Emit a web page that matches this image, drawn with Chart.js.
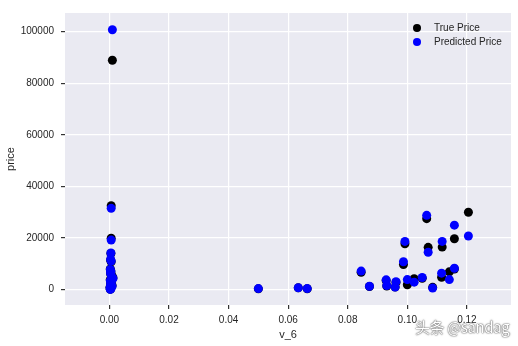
<!DOCTYPE html>
<html lang="en">
<head>
  <meta charset="UTF-8">
  <title>True vs Predicted Price – v_6</title>
  <script src="https://cdn.jsdelivr.net/npm/chart.js"></script>
  <style>
    body { margin: 0; background: #fff; }
    .wrap { position: relative; width: 518px; height: 346px; overflow: hidden; }
    canvas { display: block; }
    .mark { position: absolute; left: 415px; top: 317px; white-space: nowrap; font-family: "Noto Sans CJK SC", sans-serif; font-size: 15px; letter-spacing: -0.4px; line-height: 20px; color: #fff; text-shadow: 0 0 2px #555, 0 0 1px #333; }
  </style>
</head>
<body>

<div class="wrap">
  <canvas id="scatter" width="518" height="346"></canvas>
  <span class="mark">头条 @sandag</span>
</div>

<script>
// v_6 value of each test sample, with its true and predicted price
const v6 = [
  0.0010, 0.0006, 0.0006, 0.0005, 0.0004, 0.0006, 0.0003, 0.0005, 0.0004, 0.0008,
  0.0012, 0.0003, 0.0006, 0.0004, 0.0009, 0.0002, 0.0005, 0.0003,
  0.0500, 0.0634, 0.0664,
  0.0845, 0.0873, 0.0929, 0.0931, 0.0959, 0.0962, 0.0987, 0.0992, 0.1000, 0.1023,
  0.1050, 0.1065, 0.1070, 0.1085, 0.1115, 0.1117, 0.1141, 0.1158, 0.1158, 0.1205
];
const truePrice = [
  88900, 32500, 19900, 14000, 11500, 10800, 8000, 7200, 6200, 5500,
  4600, 3900, 3000, 2200, 1600, 900, 400, 150,
  300, 700, 350,
  6700, 1200, 3500, 1400, 1000, 2800, 9700, 17800, 1900, 4200,
  4400, 27500, 16400, 900, 4800, 16500, 6900, 19700, 8000, 30000
];
const predictedPrice = [
  100700, 31500, 19200, 14200, 11700, 11100, 7800, 7000, 6300, 5000,
  4300, 3500, 2800, 2000, 1300, 700, 300, 100,
  400, 750, 400,
  7200, 1300, 3800, 1600, 1000, 3100, 10800, 18700, 3900, 2900,
  4700, 28800, 14500, 600, 6400, 18700, 3900, 25000, 8300, 20800
];
const xTicks = [0, 0.02, 0.04, 0.06, 0.08, 0.10, 0.12];
const yTicks = [0, 20000, 40000, 60000, 80000, 100000];
const seriesNames = ["True Price", "Predicted Price"];
const seriesColors = ["#000000", "#0000ff"];

const toPoints = (ys) => v6.map((x, i) => ({ x: x, y: ys[i] }));

// legend in the top right corner of the plot, like matplotlib's
const insideLegend = {
  id: "insideLegend",
  afterDraw(chart) {
    const ctx = chart.ctx;
    const a = chart.chartArea;
    ctx.save();
    ctx.font = "10px 'Liberation Sans', Arial, sans-serif";
    ctx.textBaseline = "middle";
    seriesNames.forEach((name, i) => {
      const y = a.top + 15 + i * 14;
      ctx.fillStyle = seriesColors[i];
      ctx.beginPath();
      ctx.arc(a.right - 94, y, 4, 0, Math.PI * 2);
      ctx.fill();
      ctx.fillStyle = "#262626";
      ctx.fillText(name, a.right - 77, y);
    });
    ctx.restore();
  }
};

// seaborn darkgrid background
const plotBg = {
  id: "plotBg",
  beforeDraw(chart) {
    const a = chart.chartArea;
    chart.ctx.save();
    chart.ctx.fillStyle = "#eaeaf2";
    chart.ctx.fillRect(a.left, a.top, a.right - a.left, a.bottom - a.top);
    chart.ctx.restore();
  }
};

Chart.defaults.font.family = "'Liberation Sans', Arial, sans-serif";
Chart.defaults.color = "#262626";

new Chart(document.getElementById("scatter"), {
  type: "scatter",
  data: {
    datasets: [
      { label: seriesNames[0], data: toPoints(truePrice), backgroundColor: seriesColors[0], borderWidth: 0, pointRadius: 4.5, order: 2 },
      { label: seriesNames[1], data: toPoints(predictedPrice), backgroundColor: seriesColors[1], borderWidth: 0, pointRadius: 4.5, order: 1 }
    ]
  },
  options: {
    responsive: false,
    animation: false,
    layout: { padding: { top: 6, right: 7, left: 0, bottom: 0 } },
    plugins: { legend: { display: false }, tooltip: { enabled: false } },
    scales: {
      x: {
        type: "linear",
        min: -0.0149,
        max: 0.1348,
        afterBuildTicks: (s) => { s.ticks = xTicks.map(v => ({ value: v })); },
        afterFit: (s) => { s.height = 41; },
        ticks: { font: { size: 10 }, padding: 5, callback: (v) => v.toFixed(2) },
        grid: { color: "#ffffff", lineWidth: 1.2, tickColor: "#333333", tickLength: 4 },
        border: { display: false },
        title: { display: true, text: "v_6", font: { size: 11 }, padding: { top: 0, bottom: 4 } }
      },
      y: {
        min: -5950,
        max: 107200,
        afterBuildTicks: (s) => { s.ticks = yTicks.map(v => ({ value: v })); },
        afterFit: (s) => { s.width = 65; },
        ticks: { font: { size: 10 }, padding: 7, callback: (v) => String(v) },
        grid: { color: "#ffffff", lineWidth: 1.2, tickColor: "#333333", tickLength: 4 },
        border: { display: false },
        title: { display: true, text: "price", font: { size: 11 }, padding: { top: 4, bottom: 0 } }
      }
    }
  },
  plugins: [plotBg, insideLegend]
});
</script>

</body>
</html>
